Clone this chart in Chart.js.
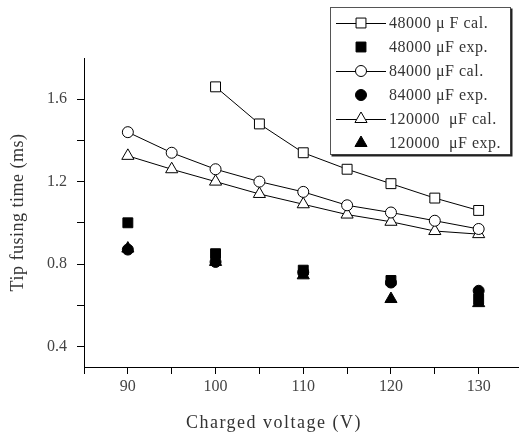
<!DOCTYPE html>
<html>
<head>
<meta charset="utf-8">
<script src="https://cdn.jsdelivr.net/npm/chart.js@4/dist/chart.umd.min.js"></script>
<style>
  html, body { margin: 0; padding: 0; background: #fff; }
  canvas { display: block; }
</style>
</head>
<body>
<canvas id="fuseChart" width="519" height="435"></canvas>
<script>
// --- data ---
const voltsCal = [90, 95, 100, 105, 110, 115, 120, 125, 130];
const volts48Cal = [100, 105, 110, 115, 120, 125, 130];
const voltsExp = [90, 100, 110, 120, 130];

const cal48 = [1.66, 1.48, 1.34, 1.26, 1.19, 1.12, 1.06];
const cal84 = [1.44, 1.34, 1.26, 1.20, 1.15, 1.085, 1.05, 1.01, 0.97];
const cal120 = [1.325, 1.26, 1.20, 1.14, 1.09, 1.04, 1.005, 0.96, 0.945];

const exp48 = [1.00, 0.85, 0.77, 0.72, 0.63];
const exp84 = [0.87, 0.81, 0.76, 0.71, 0.67];
const exp120 = [0.875, 0.81, 0.745, 0.63, 0.61];

const xTicks = [85, 90, 95, 100, 105, 110, 115, 120, 125, 130];
const xLabels = [90, 100, 110, 120, 130];
const yTicks = [0.4, 0.6, 0.8, 1.0, 1.2, 1.4, 1.6];
const yLabels = [0.4, 0.8, 1.2, 1.6];

const legendLabels = [
  "48000 \u03bc F cal.",
  "48000 \u03bcF exp.",
  "84000 \u03bcF cal.",
  "84000 \u03bcF exp.",
  "120000  \u03bcF cal.",
  "120000  \u03bcF exp."
];

const FONT = "'Liberation Serif', 'DejaVu Serif', serif";
const TEXT = "#333";

function pts(xs, ys) {
  return xs.map((x, i) => ({ x, y: ys[i] }));
}

// marker styles per series (cal = hollow + line, exp = filled)
const styles = [
  { pointStyle: "rect", radius: 7, filled: false, line: true },
  { pointStyle: "rect", radius: 7, filled: true, line: false },
  { pointStyle: "circle", radius: 5.5, filled: false, line: true },
  { pointStyle: "circle", radius: 5.5, filled: true, line: false },
  { pointStyle: "triangle", radius: 7, filled: false, line: true },
  { pointStyle: "triangle", radius: 7, filled: true, line: false }
];

const series = [
  pts(volts48Cal, cal48),
  pts(voltsExp, exp48),
  pts(voltsCal, cal84),
  pts(voltsExp, exp84),
  pts(voltsCal, cal120),
  pts(voltsExp, exp120)
];

const datasets = series.map((data, i) => {
  const s = styles[i];
  return {
    label: legendLabels[i],
    data,
    showLine: s.line,
    borderColor: "#000",
    borderWidth: 1,
    pointStyle: s.pointStyle,
    pointRadius: s.radius,
    pointHoverRadius: s.radius,
    pointBackgroundColor: s.filled ? "#000" : "#fff",
    pointBorderColor: "#000",
    pointBorderWidth: 1
  };
});

// small marker painter for the legend box
function drawMarker(ctx, style, x, y) {
  ctx.save();
  ctx.lineWidth = 1;
  ctx.strokeStyle = "#000";
  ctx.fillStyle = style.filled ? "#000" : "#fff";
  ctx.beginPath();
  const r = style.radius;
  if (style.pointStyle === "rect") {
    const h = r * Math.SQRT1_2;
    ctx.rect(x - h, y - h, 2 * h, 2 * h);
  } else if (style.pointStyle === "circle") {
    ctx.arc(x, y, r, 0, Math.PI * 2);
  } else {
    ctx.moveTo(x, y - r);
    ctx.lineTo(x + r * Math.sin(Math.PI / 3), y + r / 2);
    ctx.lineTo(x - r * Math.sin(Math.PI / 3), y + r / 2);
    ctx.closePath();
  }
  ctx.fill();
  ctx.stroke();
  ctx.restore();
}

// axis titles + boxed legend
const decorPlugin = {
  id: "decor",
  afterDraw(chart) {
    const ctx = chart.ctx;
    const area = chart.chartArea;
    ctx.save();
    ctx.fillStyle = TEXT;
    ctx.textAlign = "center";
    ctx.textBaseline = "middle";

    ctx.font = "18px " + FONT;
    ctx.letterSpacing = "1.5px";
    ctx.fillText("Charged voltage (V)", 274, 423);

    ctx.save();
    ctx.letterSpacing = "0.5px";
    ctx.translate(18, (area.top + area.bottom) / 2);
    ctx.rotate(-Math.PI / 2);
    ctx.fillText("Tip fusing time (ms)", 0, 0);
    ctx.restore();

    // legend frame with a drop shadow on right/bottom
    const bx = 330.5, by = 7.5, bw = 180, bh = 147;
    ctx.fillStyle = "#fff";
    ctx.fillRect(bx, by, bw, bh);
    ctx.strokeStyle = "#555";
    ctx.lineWidth = 1;
    ctx.strokeRect(bx, by, bw, bh);
    ctx.strokeStyle = "#222";
    ctx.lineWidth = 2;
    ctx.beginPath();
    ctx.moveTo(bx + bw + 1, by + 1);
    ctx.lineTo(bx + bw + 1, by + bh + 1);
    ctx.lineTo(bx + 1, by + bh + 1);
    ctx.stroke();

    ctx.font = "16px " + FONT;
    ctx.letterSpacing = "0.5px";
    ctx.textAlign = "left";
    legendLabels.forEach((label, i) => {
      const y = 23 + i * 24;
      const s = styles[i];
      if (s.line) {
        ctx.strokeStyle = "#000";
        ctx.lineWidth = 1;
        ctx.beginPath();
        ctx.moveTo(336, y + 0.5);
        ctx.lineTo(386, y + 0.5);
        ctx.stroke();
      }
      drawMarker(ctx, s, 361, y);
      ctx.fillStyle = TEXT;
      ctx.fillText(label, 389, y + 1);
    });
    ctx.restore();
  }
};

const canvas = document.getElementById("fuseChart");
new Chart(canvas.getContext("2d"), {
  type: "scatter",
  data: { datasets },
  plugins: [decorPlugin],
  options: {
    responsive: false,
    animation: false,
    events: [],
    layout: { autoPadding: false, padding: { top: 58, right: 0, left: 0, bottom: 0 } },
    plugins: { legend: { display: false }, tooltip: { enabled: false } },
    scales: {
      x: {
        type: "linear",
        position: "bottom",
        min: 85,
        max: 134.6,
        afterBuildTicks: s => { s.ticks = xTicks.map(v => ({ value: v })); },
        afterFit: s => { s.height = 68; },
        grid: { drawOnChartArea: false, color: "#000", tickLength: 7, tickWidth: 1 },
        border: { color: "#000", width: 1 },
        ticks: {
          autoSkip: false,
          maxRotation: 0,
          padding: 3,
          color: "#444",
          font: { family: FONT, size: 16 },
          callback: v => (xLabels.includes(v) ? String(v) : "")
        }
      },
      y: {
        type: "linear",
        min: 0.3,
        max: 1.8,
        afterBuildTicks: s => { s.ticks = yTicks.map(v => ({ value: v })); },
        afterFit: s => { s.width = 84; },
        grid: { drawOnChartArea: false, color: "#000", tickLength: 7, tickWidth: 1 },
        border: { color: "#000", width: 1 },
        ticks: {
          autoSkip: false,
          padding: 10,
          color: "#444",
          font: { family: FONT, size: 16 },
          callback: v => (yLabels.some(l => Math.abs(l - v) < 1e-6) ? v.toFixed(1) : "")
        }
      }
    }
  }
});
</script>
</body>
</html>
